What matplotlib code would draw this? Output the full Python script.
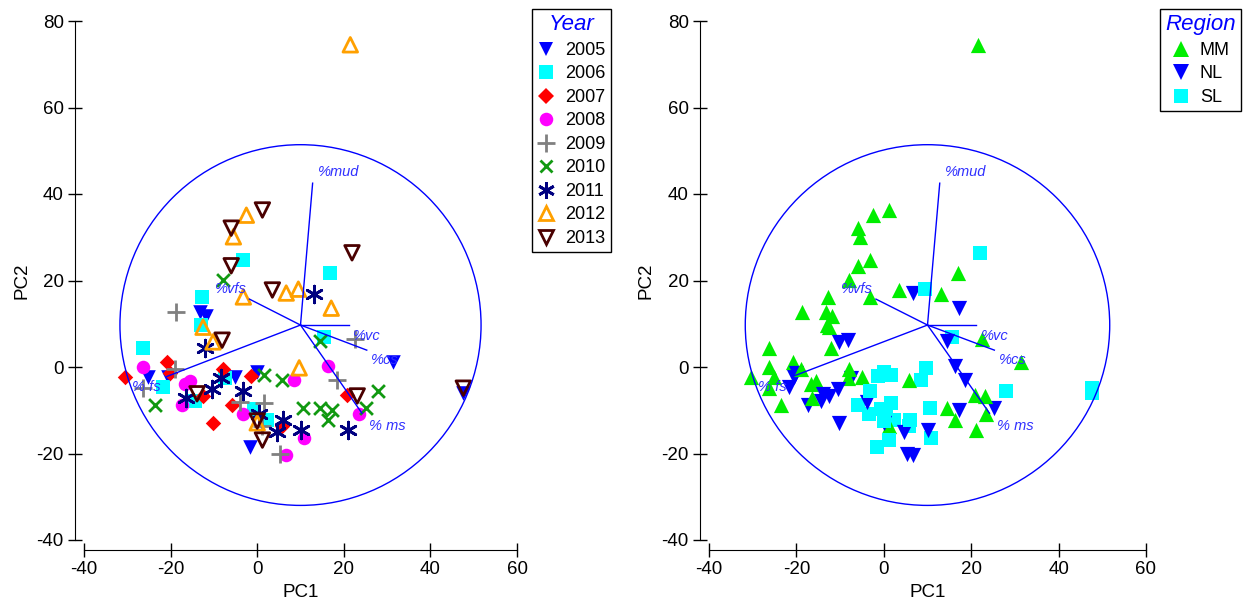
import matplotlib
matplotlib.use("Agg")
import matplotlib.pyplot as plt
from matplotlib.lines import Line2D
from matplotlib.patches import Circle

plt.rcParams['font.family'] = ['Liberation Sans', 'DejaVu Sans']
plt.rcParams['axes.unicode_minus'] = False

# ---------------- data ----------------
years = [2005, 2006, 2007, 2008, 2009, 2010, 2011, 2012, 2013]

pc1_2005 = [-13.2, -11.8, -25.2, -20.6, -5.1, 0.0, -1.6, 31.4, 47.6]
pc2_2005 = [12.7, 11.8, -2.3, -2.3, -2.3, -1.2, -18.5, 1.2, -6.0]
reg_2005 = ['MM', 'MM', 'MM', 'NL', 'MM', 'SL', 'SL', 'MM', 'SL']

pc1_2006 = [-3.2, 16.9, -12.7, -12.9, -26.3, -21.7, -14.3, -7.4, -0.7, 2.3, 15.5]
pc2_2006 = [24.7, 21.7, 16.2, 9.7, 4.4, -4.6, -7.9, -2.5, -9.7, -12.3, 6.9]
reg_2006 = ['MM', 'MM', 'MM', 'MM', 'MM', 'NL', 'NL', 'NL', 'SL', 'SL', 'SL']

pc1_2007 = [-30.5, -20.8, -20.1, -7.9, -12.5, -5.8, -10.2, -1.4, 5.8, 20.8]
pc2_2007 = [-2.3, 1.2, -1.4, -0.5, -6.7, -8.8, -12.9, -2.1, -13.6, -6.5]
reg_2007 = ['MM', 'MM', 'NL', 'MM', 'NL', 'SL', 'NL', 'SL', 'SL', 'MM']

pc1_2008 = [-26.3, -16.6, -15.5, -17.3, -3.3, 8.5, 16.3, 10.7, 23.4, 6.7]
pc2_2008 = [0.0, -3.9, -3.2, -8.8, -10.8, -2.9, 0.2, -16.5, -10.9, -20.3]
reg_2008 = ['MM', 'MM', 'MM', 'NL', 'SL', 'SL', 'NL', 'SL', 'MM', 'NL']

pc1_2009 = [-18.7, -18.9, -26.3, -3.9, 1.6, 1.2, 5.3, 18.5, 22.5]
pc2_2009 = [12.7, -0.5, -4.9, -8.1, -8.3, -13.6, -20.1, -2.9, 6.4]
reg_2009 = ['MM', 'MM', 'MM', 'NL', 'SL', 'MM', 'NL', 'NL', 'MM']

pc1_2010 = [-7.9, -23.6, 1.6, 5.8, 14.5, 10.6, 14.5, 17.3, 16.4, 25.2, 27.9]
pc2_2010 = [20.1, -8.8, -1.8, -3.0, 6.1, -9.5, -9.5, -9.9, -12.3, -9.5, -5.5]
reg_2010 = ['MM', 'MM', 'SL', 'MM', 'NL', 'SL', 'MM', 'NL', 'MM', 'NL', 'SL']

pc1_2011 = [-12.0, -16.4, -10.4, -8.3, -3.2, 0.5, 6.0, 4.6, 10.2, 21.0, 13.2]
pc2_2011 = [4.4, -7.2, -5.1, -2.5, -5.5, -10.9, -12.3, -15.0, -14.6, -14.6, 16.9]
reg_2011 = ['MM', 'MM', 'NL', 'MM', 'SL', 'SL', 'SL', 'NL', 'NL', 'MM', 'MM']

pc1_2012 = [21.5, -2.5, -5.5, -3.2, 6.7, 9.5, 17.1, -12.5, -10.2, 9.7, 0.0]
pc2_2012 = [74.5, 35.1, 30.1, 16.2, 17.1, 18.0, 13.6, 9.2, 5.8, -0.2, -12.9]
reg_2012 = ['MM', 'MM', 'MM', 'MM', 'NL', 'SL', 'NL', 'MM', 'NL', 'SL', 'NL']

pc1_2013 = [1.2, -6.0, -6.0, 3.5, 21.9, -8.1, -13.9, 23.1, 0.0, 1.2, 47.6]
pc2_2013 = [36.3, 32.1, 23.4, 17.8, 26.4, 6.2, -6.2, -6.7, -12.5, -16.9, -4.9]
reg_2013 = ['MM', 'MM', 'MM', 'MM', 'SL', 'NL', 'NL', 'MM', 'SL', 'SL', 'SL']

pc1_by_year = [pc1_2005, pc1_2006, pc1_2007, pc1_2008, pc1_2009,
               pc1_2010, pc1_2011, pc1_2012, pc1_2013]
pc2_by_year = [pc2_2005, pc2_2006, pc2_2007, pc2_2008, pc2_2009,
               pc2_2010, pc2_2011, pc2_2012, pc2_2013]
reg_by_year = [reg_2005, reg_2006, reg_2007, reg_2008, reg_2009,
               reg_2010, reg_2011, reg_2012, reg_2013]

regions = ['MM', 'NL', 'SL']

# loading vectors (biplot)
vec_names = ['%mud', '%vfs', '%vc', '%cs', '% ms', '% fs']
vec_x = [12.8, -1.8, 21.1, 25.3, 24.2, -20.9]
vec_y = [42.5, 15.7, 9.7, 3.9, -10.7, -2.2]
lab_x = [14.1, -9.7, 22.2, 26.3, 25.9, -28.9]
lab_y = [45.1, 18.0, 7.2, 1.6, -13.6, -4.7]
circ_center = (10.0, 9.7)
circ_radius = 41.7

# ---------------- styles ----------------
year_style = {
    2005: dict(marker='v', s=110, c='#0000ff', lw=0),
    2006: dict(marker='s', s=90, c='#00ffff', lw=0),
    2007: dict(marker='D', s=62, c='#ff0000', lw=0),
    2008: dict(marker='o', s=95, c='#ff00ff', lw=0),
    2009: dict(marker='+', s=150, c='#808080', lw=2),
    2010: dict(marker='x', s=85, c='#119911', lw=2),
    2011: dict(marker=(6, 2, 0), s=145, c='#000080', lw=2),
    2012: dict(marker='^', s=110, facecolors='none', edgecolors='#ffa000', lw=2),
    2013: dict(marker='v', s=110, facecolors='none', edgecolors='#4a0000', lw=2),
}
region_style = {
    'MM': dict(marker='^', s=120, c='#00ee00', lw=0),
    'NL': dict(marker='v', s=120, c='#0000ff', lw=0),
    'SL': dict(marker='s', s=100, c='#00ffff', lw=0),
}

W, H = 1247, 603
fig = plt.figure(figsize=(W / 100, H / 100), dpi=100)

def make_axes(left_px, right_px):
    top_px, bot_px = 21, 540
    ax = fig.add_axes([left_px / W, 1 - bot_px / H,
                       (right_px - left_px) / W, (bot_px - top_px) / H])
    ax.set_xlim(-40, 60)
    ax.set_ylim(-40, 80)
    ax.set_xticks([-40, -20, 0, 20, 40, 60])
    ax.set_yticks([-40, -20, 0, 20, 40, 60, 80])
    for sp in ['top', 'right']:
        ax.spines[sp].set_visible(False)
    ax.spines['left'].set_position(('outward', 6.5))
    ax.spines['bottom'].set_position(('outward', 7.2))
    ax.spines['left'].set_bounds(-40, 80)
    ax.spines['bottom'].set_bounds(-40, 60)
    ax.tick_params(direction='inout', length=10, width=1, labelsize=13.5,
                   pad=3, colors='black')
    ax.set_xlabel('PC1', fontsize=13.5)
    ax.set_ylabel('PC2', fontsize=13.5)
    ax.xaxis.set_label_coords(0.5, -0.085)
    ax.yaxis.set_label_coords(-0.124, 0.5)
    ax.patch.set_visible(False)
    return ax

def draw_biplot(ax):
    ax.add_patch(Circle(circ_center, circ_radius, fill=False,
                        edgecolor='#0000ff', lw=1, zorder=5))
    for name, vx, vy, lx, ly in zip(vec_names, vec_x, vec_y, lab_x, lab_y):
        ax.plot([circ_center[0], vx], [circ_center[1], vy],
                color='#0000ff', lw=1, zorder=5)
        ax.text(lx, ly, name, color='#3030ff', fontsize=10.5,
                style='italic', ha='left', va='center', zorder=6)

# left: by year
ax1 = make_axes(84, 517)
for yr, xs, ys in zip(years, pc1_by_year, pc2_by_year):
    ax1.scatter(xs, ys, zorder=3, clip_on=False, **year_style[yr])
draw_biplot(ax1)

# right: by region
ax2 = make_axes(709, 1146)
for xs, ys, rs in zip(pc1_by_year, pc2_by_year, reg_by_year):
    for r in regions:
        px = [x for x, rr in zip(xs, rs) if rr == r]
        py = [y for y, rr in zip(ys, rs) if rr == r]
        if px:
            ax2.scatter(px, py, zorder=3, clip_on=False, **region_style[r])
draw_biplot(ax2)

# legends
def leg_handle(st):
    fc = st.get('facecolors', st.get('c'))
    ec = st.get('edgecolors', st.get('c'))
    return Line2D([], [], linestyle='none', marker=st['marker'],
                  markersize=(st['s'] ** 0.5) * 1.0,
                  markerfacecolor=fc, markeredgecolor=ec,
                  markeredgewidth=st['lw'] if st['lw'] else 0)

def make_legend(handles, labels, x_px, title):
    leg = fig.legend(handles, labels, loc='upper left',
                     bbox_to_anchor=(x_px / W, 1 - 9 / H), borderaxespad=0,
                     fontsize=13, frameon=True, fancybox=False,
                     edgecolor='black', framealpha=1, handlelength=1.0,
                     handletextpad=0.55, labelspacing=0.36, borderpad=0.3,
                     title=title, title_fontsize=16)
    leg.get_frame().set_linewidth(1)
    leg.get_title().set_color('#0000ff')
    leg.get_title().set_style('italic')
    return leg

make_legend([leg_handle(year_style[y]) for y in years],
            [str(y) for y in years], 532, 'Year')
make_legend([leg_handle(region_style[r]) for r in regions],
            regions, 1160, 'Region')

fig.savefig('out.png', dpi=100)
